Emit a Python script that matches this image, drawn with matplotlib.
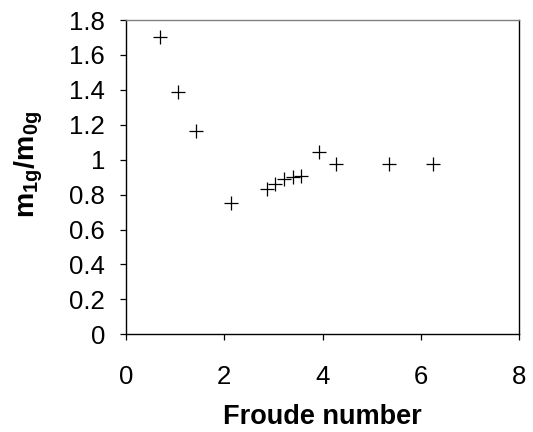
import matplotlib
matplotlib.use("Agg")
import matplotlib.pyplot as plt

# values
froude = [0.70, 1.06, 1.42, 2.13, 2.86, 3.03, 3.21, 3.39, 3.55, 3.92, 4.28, 5.35, 6.25]
ratio = [1.705, 1.385, 1.162, 0.753, 0.834, 0.863, 0.89, 0.90, 0.905, 1.046, 0.975, 0.975, 0.975]

x_ticks = [0, 2, 4, 6, 8]
y_ticks = [0, 0.2, 0.4, 0.6, 0.8, 1, 1.2, 1.4, 1.6, 1.8]
y_tick_labels = ["0", "0.2", "0.4", "0.6", "0.8", "1", "1.2", "1.4", "1.6", "1.8"]

plt.rcParams["font.family"] = ["Liberation Sans", "DejaVu Sans"]
plt.rcParams["mathtext.fontset"] = "custom"
plt.rcParams["mathtext.rm"] = "Liberation Sans"
plt.rcParams["mathtext.bf"] = "Liberation Sans:bold"

fig = plt.figure(figsize=(5.33, 4.32), dpi=100)
ax = fig.add_axes([0.2364, 0.2262, 0.7379, 0.7275])

ax.plot(froude, ratio, linestyle="none", marker="+", markersize=10,
        markeredgewidth=0.9, color="black")

ax.set_xlim(0, 8)
ax.set_ylim(0, 1.8)
ax.set_xticks(x_ticks)
ax.set_yticks(y_ticks)
ax.set_yticklabels(y_tick_labels)
ax.tick_params(direction="out", length=4, width=0.9, labelsize=18.5)
ax.tick_params(axis="y", pad=11)
ax.tick_params(axis="x", pad=18)

ax.spines["left"].set_color("black")
ax.spines["bottom"].set_color("black")
ax.spines["right"].set_color("black")
ax.spines["top"].set_color("#808080")
for s in ax.spines.values():
    s.set_linewidth(1.0)

ax.set_xlabel("Froude number", fontsize=19.5, fontweight="bold", labelpad=11)
ax.set_ylabel(r"$\mathbf{m_{1g}/m_{0g}}$", fontsize=20.5)
ax.yaxis.set_label_coords(-0.205, 0.54)

fig.savefig("out.png", dpi=100)
